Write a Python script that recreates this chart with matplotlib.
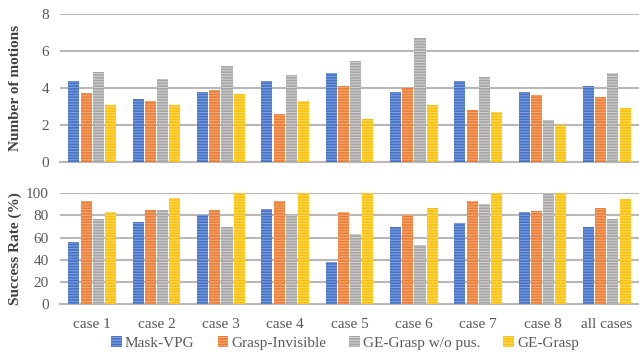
import matplotlib
matplotlib.use("Agg")
import matplotlib.pyplot as plt
import numpy as np

categories = ["case 1", "case 2", "case 3", "case 4", "case 5", "case 6", "case 7", "case 8", "all cases"]
series_names = ["Mask-VPG", "Grasp-Invisible", "GE-Grasp w/o pus.", "GE-Grasp"]

motions_mask_vpg = [4.4, 3.4, 3.8, 4.4, 4.8, 3.8, 4.4, 3.8, 4.1]
motions_grasp_invisible = [3.7, 3.3, 3.9, 2.6, 4.1, 4.0, 2.8, 3.6, 3.5]
motions_ge_wo_pus = [4.85, 4.5, 5.2, 4.7, 5.45, 6.7, 4.6, 2.25, 4.8]
motions_ge_grasp = [3.1, 3.1, 3.65, 3.3, 2.3, 3.1, 2.7, 2.0, 2.9]

success_mask_vpg = [56, 74, 80, 86, 38, 70, 73, 83, 70]
success_grasp_invisible = [93, 85, 85, 93, 83, 80, 93, 84, 87]
success_ge_wo_pus = [77, 85, 70, 80, 63, 53, 90, 100, 77]
success_ge_grasp = [83, 96, 100, 100, 100, 87, 100, 100, 95]

colors = ["#4472C4", "#ED7D31", "#A5A5A5", "#FFC000"]
hatch_colors = ["#7f9fe0", "#f5a878", "#cfcfcf", "#ffd966"]

plt.rcParams['font.family'] = ['Liberation Serif', 'DejaVu Serif']
plt.rcParams['hatch.linewidth'] = 0.8

fig = plt.figure(figsize=(6.39, 3.52), dpi=100)
ax1 = fig.add_axes([0.094, 0.5406, 0.906, 0.4194])
ax2 = fig.add_axes([0.094, 0.1355, 0.906, 0.3154])

x = np.arange(len(categories))
offsets = np.array([-1.5, -0.5, 0.5, 1.5]) * 0.19
width = 0.172

def draw(ax, data, ymax, step):
    handles = []
    for i, vals in enumerate(data):
        h = ax.bar(x + offsets[i], vals, width, color=colors[i], edgecolor=hatch_colors[i],
                   linewidth=0, hatch='------', zorder=3, label=series_names[i])
        handles.append(h)
    ax.set_xlim(-0.5, len(categories) - 0.5)
    ax.set_ylim(0, ymax)
    ax.set_yticks(np.arange(0, ymax + 0.001, step))
    ax.yaxis.grid(True, color="#b8b8b8", linewidth=1.5, zorder=0)
    ax.set_axisbelow(True)
    for s in ["top", "right", "left"]:
        ax.spines[s].set_visible(False)
    ax.spines["bottom"].set_color("#b8b8b8")
    ax.spines["bottom"].set_linewidth(1.5)
    ax.tick_params(axis='y', length=0, labelsize=11, labelcolor="#595959", pad=8)
    ax.tick_params(axis='x', length=0)
    return handles

draw(ax1, [motions_mask_vpg, motions_grasp_invisible, motions_ge_wo_pus, motions_ge_grasp], 8, 2)
handles = draw(ax2, [success_mask_vpg, success_grasp_invisible, success_ge_wo_pus, success_ge_grasp], 100, 20)

ax1.set_xticks(x)
ax1.set_xticklabels([])
ax2.set_xticks(x)
ax2.set_xticklabels(categories, fontsize=11, color="#595959")
ax2.tick_params(axis='x', pad=10)

ax1.set_ylabel("Number of motions", fontsize=11, fontweight='bold', color="#404040")
ax2.set_ylabel("Success Rate (%)", fontsize=11, fontweight='bold', color="#404040")
ax1.yaxis.set_label_coords(-0.066, 0.5)
ax2.yaxis.set_label_coords(-0.066, 0.5)

fig.legend(handles, series_names, loc="center", bbox_to_anchor=(0.54, 0.026), ncol=4,
           frameon=False, fontsize=11, handlelength=0.7, handleheight=0.7,
           handletextpad=0.2, columnspacing=1.5, labelcolor="#595959")

fig.savefig("out.png", dpi=100)
